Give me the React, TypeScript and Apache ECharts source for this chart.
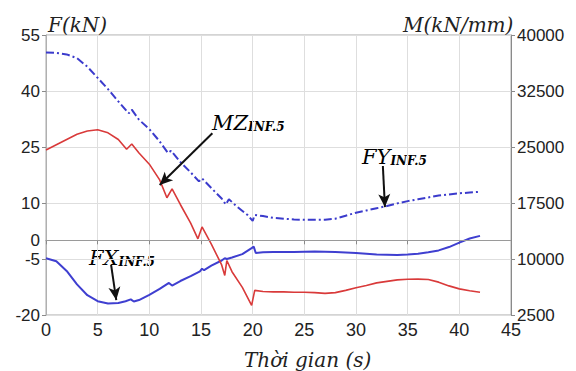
import React, { useEffect, useRef } from "react";
import * as echarts from "echarts";

// ---- data (time in s) ----
const fyTime = [0, 1, 2, 3, 4, 5, 6, 7, 8, 8.3, 9, 10, 11, 11.8, 12.1, 13, 14, 14.8, 15.1, 16, 17, 17.4, 17.7, 18.5, 19.5, 20.0, 20.2, 21, 22, 23, 24, 25, 26, 27, 28, 29, 30, 31, 32, 33, 34, 35, 36, 37, 38, 39, 40, 41, 42];
const fyValues = [50.3, 50.2, 49.8, 48.8, 46.5, 43.5, 40.5, 37.2, 34.0, 35.0, 32.3, 29.8, 26.5, 23.4, 24.0, 21.0, 18.2, 15.8, 16.6, 14.0, 11.2, 9.6, 11.0, 9.0, 6.8, 5.2, 6.8, 6.5, 6.0, 5.8, 5.6, 5.5, 5.5, 5.5, 5.8, 6.6, 7.4, 8.0, 8.6, 9.2, 9.9, 10.5, 11.0, 11.5, 12.0, 12.3, 12.6, 12.8, 13.0];

const mzTime = [0, 1, 2, 3, 4, 5, 6, 7, 7.8, 8.3, 9, 10, 11, 11.7, 12.2, 13, 14, 14.7, 15.1, 16, 17, 17.3, 17.5, 18, 19, 19.9, 20.2, 21, 22, 23, 24, 25, 26, 27, 28, 29, 30, 31, 32, 33, 34, 35, 36, 37, 38, 39, 40, 41, 42];
const mzValues = [24600, 25300, 26000, 26700, 27150, 27300, 26900, 26000, 24700, 25400, 24200, 22700, 20600, 18200, 19400, 17300, 14800, 12700, 14300, 12000, 9200, 7800, 9800, 8300, 6200, 3800, 5800, 5650, 5600, 5600, 5550, 5550, 5500, 5400, 5500, 5800, 6150, 6450, 6800, 7000, 7200, 7280, 7300, 7250, 6900, 6400, 6000, 5750, 5550];

const fxTime = [0, 1, 2, 3, 4, 5, 6, 7, 7.7, 8.2, 8.5, 9, 10, 11, 11.9, 12.2, 13, 14, 14.9, 15.1, 15.3, 16, 17, 17.3, 17.5, 18, 19, 19.9, 20.1, 20.3, 21, 22, 24, 26, 28, 30, 32, 34, 35, 36, 37, 38, 39, 40, 41, 42];
const fxValues = [-4.8, -5.6, -8.2, -11.8, -14.7, -16.3, -16.9, -16.8, -16.3, -15.8, -16.4, -16.0, -14.6, -13.0, -11.4, -12.1, -10.9, -9.6, -8.3, -7.6, -8.0, -6.8, -5.4, -4.8, -5.0, -4.6, -3.7, -2.1, -1.7, -3.4, -3.2, -3.1, -3.1, -3.0, -3.1, -3.4, -3.8, -3.9, -3.8, -3.6, -3.2, -2.7, -1.8, -0.6, 0.5, 1.2];

const leftTicks = [55, 40, 25, 10, 0, -5, -20];
const leftGridTicks = [55, 40, 25, 10, -5, -20];
const rightTicks = [2500, 10000, 17500, 25000, 32500, 40000];

// annotation arrows: [fromT, fromF, toT, toF] on left axis
const mzArrow = [16.1, 28.7, 11.0, 14.8];
const fyArrow = [32.6, 19.9, 32.8, 8.9];
const fxArrow = [6.3, -6.6, 6.8, -16.0];

const zip = (a: number[], b: number[]) => a.map((t, i) => [t, b[i]]);

const SERIF = "DejaVu Serif";
const SANS = "Liberation Sans";

const annRich = {
  a: { fontSize: 21, fontFamily: SERIF, fontStyle: "italic", color: "#222", verticalAlign: "bottom" },
  b: { fontSize: 12, fontFamily: SERIF, fontStyle: "italic", fontWeight: "bold", color: "#222", verticalAlign: "bottom" },
};

export default function App() {
  const ref = useRef<HTMLDivElement>(null);
  useEffect(() => {
    if (!ref.current) return;
    const chart = echarts.init(ref.current, undefined, { renderer: "svg" });
    const arrowItem = (a: number[]) => [
      { coord: [a[0], a[1]] },
      { coord: [a[2], a[3]] },
    ];
    const serifText = (text: string, x: number, y: number, size: number) => ({
      type: "text",
      x,
      y,
      style: { text, fontSize: size, fontFamily: SERIF, fontStyle: "italic", fill: "#222", verticalAlign: "bottom" },
    });
    const annText = (text: string, x: number, y: number) => ({
      type: "text",
      x,
      y,
      style: { text, rich: annRich, verticalAlign: "bottom" },
    });
    chart.setOption({
      animation: false,
      grid: {
        left: 46,
        right: 65,
        top: 35,
        bottom: 56,
        show: true,
        borderColor: "#a8a8a8",
        borderWidth: 1,
      },
      xAxis: {
        type: "value",
        min: 0,
        max: 45,
        interval: 5,
        axisLine: { show: true, lineStyle: { color: "#8a8a8a", width: 1 } },
        axisTick: { show: true, length: 4, lineStyle: { color: "#8a8a8a" } },
        axisLabel: { fontSize: 18, color: "#222", fontFamily: SANS, margin: 6 },
        splitLine: { show: true, lineStyle: { color: "#dedede", width: 1 } },
      },
      yAxis: [
        {
          type: "value",
          min: -20,
          max: 55,
          axisLine: { show: true, lineStyle: { color: "#b0b0b0", width: 1 } },
          axisTick: { show: true, length: 4, customValues: leftGridTicks, lineStyle: { color: "#8a8a8a" } },
          axisLabel: { fontSize: 17, color: "#222", fontFamily: SANS, margin: 6, customValues: leftTicks },
          splitLine: { show: true, lineStyle: { color: "#dedede", width: 1 } },
        },
        {
          type: "value",
          min: 2500,
          max: 40000,
          position: "right",
          axisLine: { show: true, lineStyle: { color: "#8a8a8a", width: 1 } },
          axisTick: { show: true, length: 4, customValues: rightTicks, lineStyle: { color: "#8a8a8a" } },
          axisLabel: {
            fontSize: 17,
            color: "#222",
            fontFamily: SANS,
            margin: 6,
            customValues: rightTicks,
            formatter: (v: number) => String(v),
          },
          splitLine: { show: false },
        },
      ],
      series: [
        {
          name: "FY",
          type: "line",
          yAxisIndex: 0,
          data: zip(fyTime, fyValues),
          showSymbol: false,
          lineStyle: { color: "#3b3bcc", width: 2, type: [8, 3, 2, 3] },
          z: 3,
          markLine: {
            silent: true,
            symbol: ["none", "arrow"],
            symbolSize: [9, 13],
            label: { show: false },
            lineStyle: { color: "#111", width: 2, type: "solid" },
            emphasis: { disabled: true },
            data: [arrowItem(mzArrow), arrowItem(fyArrow), arrowItem(fxArrow)],
          },
        },
        {
          name: "FX",
          type: "line",
          yAxisIndex: 0,
          data: zip(fxTime, fxValues),
          showSymbol: false,
          lineStyle: { color: "#3f3fd0", width: 2 },
          z: 3,
          markLine: {
            silent: true,
            symbol: ["none", "none"],
            label: { show: false },
            lineStyle: { color: "#9a9a9a", width: 1, type: "solid" },
            emphasis: { disabled: true },
            data: [{ yAxis: 0 }],
          },
        },
        {
          name: "MZ",
          type: "line",
          yAxisIndex: 1,
          data: zip(mzTime, mzValues),
          showSymbol: false,
          lineStyle: { color: "#d93a3a", width: 1.6 },
          z: 3,
        },
      ],
      graphic: [
        serifText("F(kN)", 48, 35, 20),
        serifText("M(kN/mm)", 403, 35, 20),
        serifText("Thời gian (s)", 244, 370, 20),
        annText("{a|MZ}{b|INF.5}", 212, 133),
        annText("{a|FY}{b|INF.5}", 362, 167),
        annText("{a|FX}{b|INF.5}", 89, 268),
      ],
    });
    return () => chart.dispose();
  }, []);
  return (
    <div
      ref={ref}
      style={{ position: "fixed", left: 0, top: 0, width: 576, height: 371, background: "#fff" }}
    />
  );
}
